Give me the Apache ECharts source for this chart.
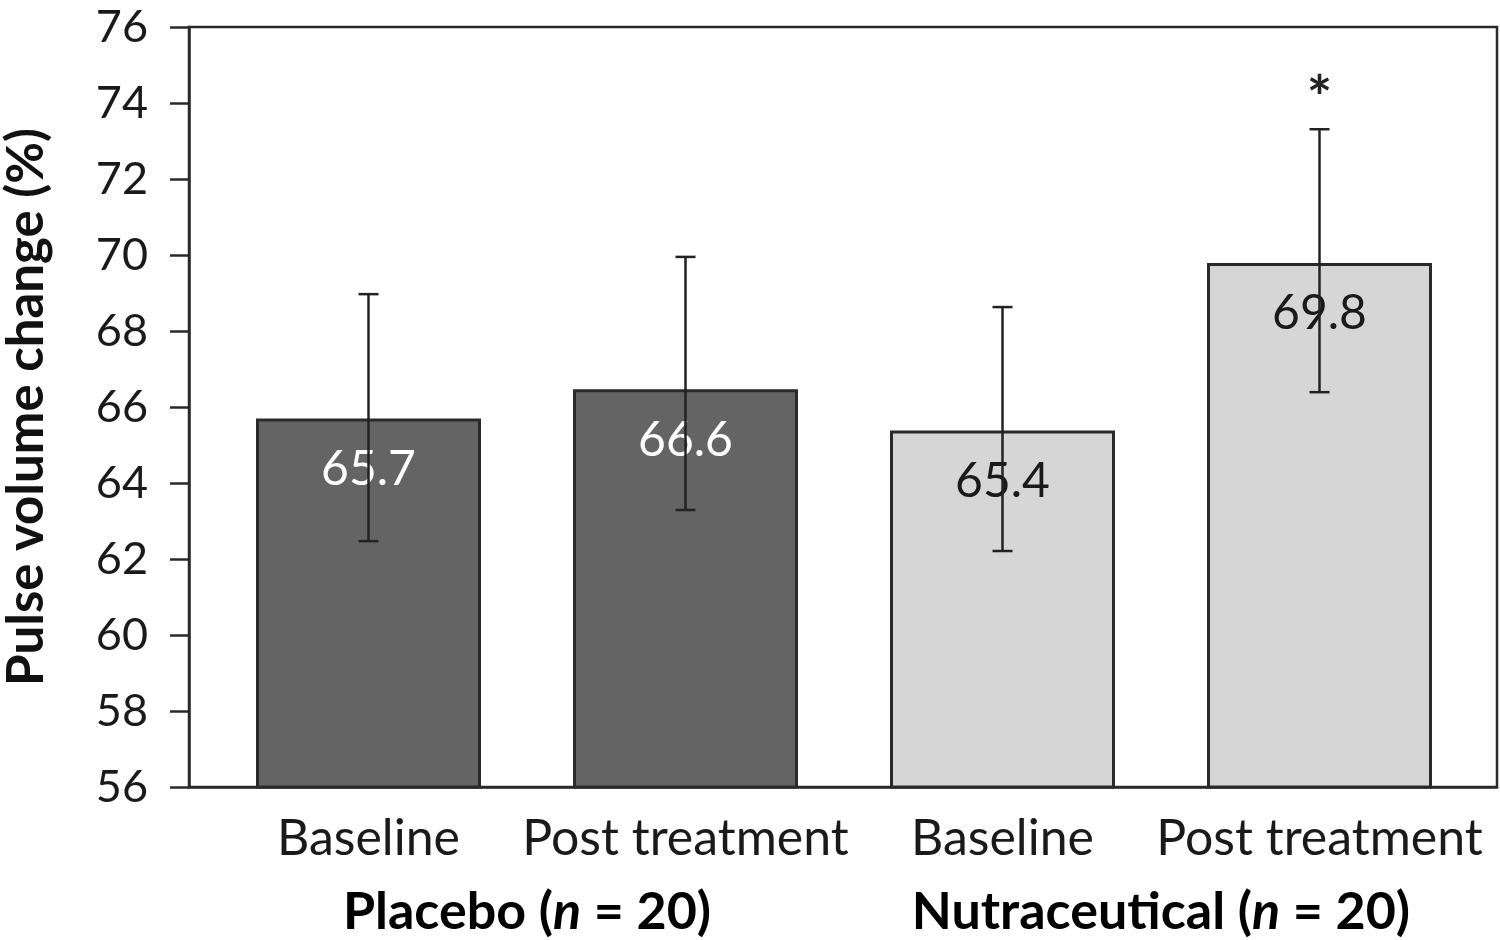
<!DOCTYPE html>
<html>
<head>
<meta charset="utf-8">
<script src="https://cdn.jsdelivr.net/npm/echarts@6/dist/echarts.min.js"></script>
<style>html,body{margin:0;padding:0;background:#fff}#c{width:1500px;height:940px}</style>
</head>
<body>
<div id="c"></div>
<script>
const categories = ['Baseline', 'Post treatment', 'Baseline', 'Post treatment'];
const groups = ['Placebo', 'Nutraceutical'];
const groupN = [20, 20];
const means = [65.7, 66.47, 65.38, 69.79];
const meanLabels = ['65.7', '66.6', '65.4', '69.8'];
const errLow = [62.47, 63.29, 62.21, 66.39];
const errHigh = [68.97, 69.95, 68.63, 73.31];
const marks = ['', '', '', '*'];
const barColors = ['#646464', '#646464', '#d6d6d6', '#d6d6d6'];
const labelColors = ['#ffffff', '#ffffff', '#1a1a1a', '#1a1a1a'];
const yMin = 56, yMax = 76, yStep = 2;

const FONT = 'Lato';
const chart = echarts.init(document.getElementById('c'));

const option = {
  animation: false,
  backgroundColor: '#fff',
  grid: [
    {left: 189, right: 3, top: 27, bottom: 153, show: true, borderColor: '#2a2a2a', borderWidth: 2.5, backgroundColor: 'transparent', outerBoundsMode: 'none', containLabel: false},
    {left: 210, width: 1268, top: 27, bottom: 153, outerBoundsMode: 'none', containLabel: false}
  ],
  xAxis: [
    {gridIndex: 0, type: 'value', min: 0, max: 1, axisLine: {show: true, lineStyle: {color: '#2a2a2a', width: 2.5}}, axisTick: {show: false}, axisLabel: {show: false}, splitLine: {show: false}},
    {gridIndex: 1, type: 'category', data: categories, axisLine: {show: false}, axisTick: {show: false},
     axisLabel: {fontFamily: FONT, fontSize: 50, color: '#1a1a1a', margin: 27, interval: 0}}
  ],
  yAxis: [
    {gridIndex: 0, type: 'value', min: yMin, max: yMax, interval: yStep,
     name: 'Pulse volume change (%)', nameLocation: 'middle', nameGap: 137,
     nameTextStyle: {fontFamily: FONT, fontSize: 51, fontWeight: 'bold', color: '#111'},
     axisLine: {show: true, lineStyle: {color: '#2a2a2a', width: 2.5}},
     axisTick: {show: true, inside: false, length: 19, lineStyle: {color: '#2a2a2a', width: 2.5}},
     axisLabel: {fontFamily: FONT, fontSize: 45, color: '#1a1a1a', margin: 41},
     splitLine: {show: false}},
    {gridIndex: 1, type: 'value', min: yMin, max: yMax, show: false}
  ],
  series: [
    {
      type: 'bar', xAxisIndex: 1, yAxisIndex: 1, barWidth: 225,
      data: means.map((v, i) => ({
        value: v,
        itemStyle: {color: barColors[i], borderColor: '#2a2a2a', borderWidth: 3},
        label: {show: true, position: 'insideTop', distance: 27, formatter: meanLabels[i],
                color: labelColors[i], fontFamily: FONT, fontSize: 48}
      }))
    },
    {
      type: 'custom', xAxisIndex: 1, yAxisIndex: 1, z: 10,
      data: categories.map((c, i) => [i, errLow[i], errHigh[i], marks[i]]),
      renderItem: function (params, api) {
        const x = api.value(0);
        const lo = api.coord([x, api.value(1)]);
        const hi = api.coord([x, api.value(2)]);
        const w = 10;
        const st = {stroke: '#222', lineWidth: 2.5};
        const children = [
          {type: 'line', shape: {x1: lo[0], y1: lo[1], x2: hi[0], y2: hi[1]}, style: st},
          {type: 'line', shape: {x1: lo[0] - w, y1: lo[1], x2: lo[0] + w, y2: lo[1]}, style: st},
          {type: 'line', shape: {x1: hi[0] - w, y1: hi[1], x2: hi[0] + w, y2: hi[1]}, style: st}
        ];
        const m = marks[params.dataIndex];
        if (m) {
          children.push({type: 'text', style: {text: m, x: hi[0], y: hi[1] - 30, align: 'center', verticalAlign: 'middle',
            font: 'bold 60px ' + FONT, fill: '#222'}});
        }
        return {type: 'group', children: children};
      }
    }
  ]
};
chart.setOption(option);

// group labels centered under each pair of categories
const gl = groups.map((g, k) => {
  const p0 = chart.convertToPixel({xAxisIndex: 1}, 2 * k);
  const p1 = chart.convertToPixel({xAxisIndex: 1}, 2 * k + 1);
  return {
    type: 'text', x: (p0 + p1) / 2, y: 912,
    style: {
      text: '{b|' + g + ' (}{i|n}{b| = ' + groupN[k] + ')}',
      align: 'center', verticalAlign: 'middle',
      rich: {
        b: {fontFamily: FONT, fontSize: 52, fontWeight: 'bold', color: '#111'},
        i: {fontFamily: FONT, fontSize: 52, fontWeight: 'bold', fontStyle: 'italic', color: '#111'}
      }
    }
  };
});
chart.setOption({graphic: gl});
</script>
</body>
</html>
